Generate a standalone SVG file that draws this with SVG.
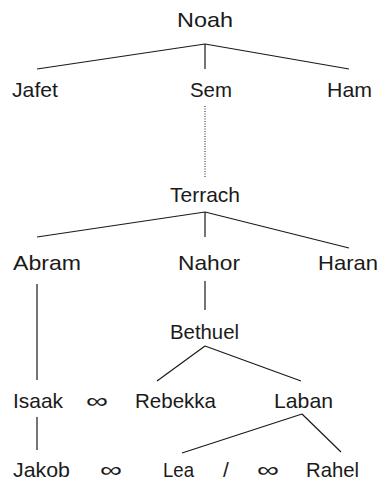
<svg xmlns="http://www.w3.org/2000/svg" width="385" height="482" viewBox="0 0 385 482">
<style>
text{font-family:"Liberation Sans",Arial,sans-serif;font-size:21px;fill:#1a1a1a}
.l{stroke:#1a1a1a;stroke-width:1.2;fill:none}
.d{stroke:#1a1a1a;stroke-width:1;stroke-dasharray:1 1.5;fill:none}
</style>
<rect width="385" height="482" fill="#fff"/>
<g id="connectors">
<path class="l" d="M205,44 L37,69 M205,44 L205,69 M205,44 L349,69"/>
<path class="d" d="M205,106 L205,177"/>
<path class="l" d="M205,212 L37,237 M205,212 L205,237 M205,212 L349,248"/>
<path class="l" d="M37,284 L37,380 M205,281 L205,310"/>
<path class="l" d="M205,346 L157,381 M205,346 L301,381"/>
<path class="l" d="M37,417 L37,450"/>
<path class="l" d="M302,414 L182,453 M302,414 L341,452"/>
</g>
<g id="noah"><text x="177" y="27" textLength="56" lengthAdjust="spacingAndGlyphs">Noah</text></g>
<g id="jafet"><text x="12" y="97" textLength="46" lengthAdjust="spacingAndGlyphs">Jafet</text></g>
<g id="sem"><text x="190" y="97" textLength="42" lengthAdjust="spacingAndGlyphs">Sem</text></g>
<g id="ham"><text x="327" y="97" textLength="45" lengthAdjust="spacingAndGlyphs">Ham</text></g>
<g id="terrach"><text x="170" y="202" textLength="70" lengthAdjust="spacingAndGlyphs">Terrach</text></g>
<g id="abram"><text x="13" y="270" textLength="68" lengthAdjust="spacingAndGlyphs">Abram</text></g>
<g id="nahor"><text x="178" y="270" textLength="62" lengthAdjust="spacingAndGlyphs">Nahor</text></g>
<g id="haran"><text x="318" y="270" textLength="60" lengthAdjust="spacingAndGlyphs">Haran</text></g>
<g id="bethuel"><text x="170" y="339" textLength="69" lengthAdjust="spacingAndGlyphs">Bethuel</text></g>
<g id="isaak"><text x="13" y="408" textLength="50" lengthAdjust="spacingAndGlyphs">Isaak</text></g>
<g id="m1"><text x="86" y="408" textLength="22" lengthAdjust="spacingAndGlyphs">∞</text></g>
<g id="rebekka"><text x="135" y="408" textLength="81" lengthAdjust="spacingAndGlyphs">Rebekka</text></g>
<g id="laban"><text x="274" y="408" textLength="59" lengthAdjust="spacingAndGlyphs">Laban</text></g>
<g id="jakob"><text x="13" y="477" textLength="57" lengthAdjust="spacingAndGlyphs">Jakob</text></g>
<g id="m2"><text x="100" y="477" textLength="22" lengthAdjust="spacingAndGlyphs">∞</text></g>
<g id="lea"><text x="163" y="477" textLength="31" lengthAdjust="spacingAndGlyphs">Lea</text></g>
<g id="slash"><text x="223" y="477">/</text></g>
<g id="m3"><text x="257" y="477" textLength="22" lengthAdjust="spacingAndGlyphs">∞</text></g>
<g id="rahel"><text x="306" y="477" textLength="53" lengthAdjust="spacingAndGlyphs">Rahel</text></g>
</svg>
